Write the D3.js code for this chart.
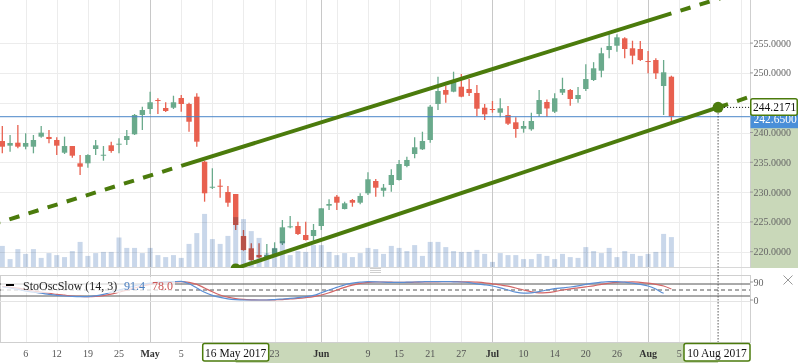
<!DOCTYPE html>
<html>
<head>
<meta charset="utf-8">
<script src="https://d3js.org/d3.v7.min.js"></script>
<style>
  body { margin: 0; background: #fff; }
  text { font-family: "Liberation Serif", "Times New Roman", serif; }
</style>
</head>
<body>
<svg width="798" height="363"></svg>
<script>
// slots on the time axis: trading days, then calendar days after the last bar
var dates = [
  "2017-04-03","2017-04-04","2017-04-05","2017-04-06","2017-04-07","2017-04-10","2017-04-11","2017-04-12","2017-04-13",
  "2017-04-17","2017-04-18","2017-04-19","2017-04-20","2017-04-21","2017-04-24","2017-04-25","2017-04-26","2017-04-27","2017-04-28",
  "2017-05-01","2017-05-02","2017-05-03","2017-05-04","2017-05-05","2017-05-08","2017-05-09","2017-05-10","2017-05-11","2017-05-12",
  "2017-05-15","2017-05-16","2017-05-17","2017-05-18","2017-05-19","2017-05-22","2017-05-23","2017-05-24","2017-05-25","2017-05-26",
  "2017-05-30","2017-05-31",
  "2017-06-01","2017-06-02","2017-06-05","2017-06-06","2017-06-07","2017-06-08","2017-06-09","2017-06-12","2017-06-13","2017-06-14",
  "2017-06-15","2017-06-16","2017-06-19","2017-06-20","2017-06-21","2017-06-22","2017-06-23","2017-06-26","2017-06-27","2017-06-28",
  "2017-06-29","2017-06-30",
  "2017-07-03","2017-07-05","2017-07-06","2017-07-07","2017-07-10","2017-07-11","2017-07-12","2017-07-13","2017-07-14","2017-07-17",
  "2017-07-18","2017-07-19","2017-07-20","2017-07-21","2017-07-24","2017-07-25","2017-07-26","2017-07-27","2017-07-28","2017-07-31",
  "2017-08-01","2017-08-02","2017-08-03","2017-08-04",
  "2017-08-05","2017-08-06","2017-08-07","2017-08-08","2017-08-09","2017-08-10","2017-08-11","2017-08-12","2017-08-13","2017-08-14"
];

var open = [238.57,237.79,238.29,237.62,237.62,239.30,239.25,238.74,236.61,237.73,234.83,234.83,237.23,236.17,237.85,238.02,238.74,239.70,242.94,
  243.94,245.45,244.11,244.16,245.79,244.78,246.01,235.10,230.74,231.07,230.02,229.68,222.63,220.57,219.45,219.11,219.62,221.41,224.09,224.31,
  222.80,222.63,224.31,227.72,229.23,227.16,228.67,228.22,229.80,231.86,230.23,231.19,232.03,234.38,236.39,237.18,238.74,244.78,247.13,246.85,
  247.68,247.30,246.63,244.16,243.94,243.32,242.94,241.71,240.64,240.54,243.10,245.12,243.49,246.68,247.13,245.62,247.30,248.81,250.37,253.84,
  254.56,255.80,254.13,254.01,251.99,252.16,247.80,249.36];
var high = [241.09,239.58,241.26,239.87,239.58,241.09,240.42,239.19,239.30,237.73,236.22,236.34,238.74,237.73,238.46,239.02,240.42,243.10,244.33,
  246.85,245.74,245.07,246.17,246.29,245.00,246.58,235.22,234.00,232.14,231.02,229.68,223.64,221.41,221.41,221.29,221.58,225.32,225.99,225.03,
  225.03,224.65,227.28,228.79,229.51,228.39,228.84,229.80,233.32,232.20,231.36,233.82,235.39,235.94,239.19,240.13,244.61,249.36,247.85,250.20,
  249.82,248.97,247.97,244.78,245.29,245.74,244.45,242.55,241.93,243.32,247.13,245.54,246.58,249.19,247.30,247.63,251.44,251.80,254.23,256.48,
  256.48,255.97,255.40,255.35,253.67,252.45,252.16,249.53];
var low = [236.51,236.78,237.35,237.18,236.51,239.13,238.19,236.22,236.39,235.77,232.87,234.09,236.22,235.27,236.61,236.51,237.90,239.58,240.42,
  243.10,243.10,243.44,243.94,243.49,240.13,237.62,228.39,230.52,229.06,227.55,223.64,220.17,218.49,218.89,218.89,219.29,221.12,223.93,222.80,
  221.90,221.85,223.64,227.00,227.00,227.10,227.55,227.95,229.51,229.23,229.23,230.07,231.95,234.16,235.67,237.06,238.29,243.78,245.00,246.75,
  245.91,246.12,242.77,242.10,243.32,242.55,241.26,239.13,239.97,240.30,242.65,242.65,243.27,246.29,244.50,245.00,246.96,248.64,249.26,252.45,
  253.56,252.45,251.44,252.00,249.93,248.97,242.94,241.81];
var close = [237.62,238.24,237.62,238.24,238.74,239.97,238.91,237.79,237.73,236.11,234.26,236.22,237.85,236.27,236.90,238.12,239.41,242.94,243.77,
  245.07,245.29,243.61,245.07,244.78,241.81,238.46,229.80,230.90,230.90,228.22,224.48,220.28,218.61,219.06,219.45,220.57,224.09,224.26,222.97,
  221.96,223.64,227.28,228.00,228.22,228.12,228.22,229.35,232.15,230.74,230.74,232.87,234.71,235.39,237.52,238.57,244.33,246.96,246.34,248.52,
  246.01,246.63,243.99,243.05,243.82,244.06,241.48,240.59,241.09,241.93,245.45,244.03,245.74,247.30,245.62,246.29,248.97,250.77,253.29,254.51,
  255.97,254.01,252.89,252.17,251.83,249.93,250.10,242.65];

// volume, millions
var volume = [54,21,46,34,46,24,36,31,26,41,64,29,36,39,39,75,49,49,36,
  49,31,26,31,24,59,86,134,71,59,79,126,121,91,74,36,49,66,31,41,
  39,56,56,39,31,36,26,36,49,46,34,54,49,41,56,29,64,64,51,41,
  39,39,44,34,14,36,31,31,21,21,34,29,21,34,26,24,51,41,36,49,
  26,41,34,29,34,39,84,76];

// slow stochastic (14, 3)
var stochK = [65,60,53,44,39,34,28,23,20,18,17,17,21,28,39,50,60,71,78,
  84,89,91,92,93,81,60,39,23,13,6,2,0,0,0,0,2,5,8,12,
  17,23,36,50,63,76,84,89,92,91,89,88,88,89,90,91,92,92,92,91,
  90,87,81,76,70,61,50,39,34,36,42,50,57,61,65,71,78,84,89,92,
  92,89,84,78,70,55,34];
var stochD = [68,63,59,52,45,39,34,28,24,20,18,17,18,22,29,39,49,60,70,
  78,84,88,90,92,88,78,60,41,25,14,7,3,1,0,0,1,2,5,8,
  12,17,25,36,50,63,74,83,88,90,90,89,88,88,89,90,91,91,92,92,
  91,91,89,86,81,76,69,60,50,41,36,37,42,50,56,61,66,71,78,84,
  88,90,91,88,84,78,70,55];

var tickDates = ["2017-04-06","2017-04-12","2017-04-19","2017-04-25","2017-05-01","2017-05-05","2017-05-11","2017-05-17",
  "2017-05-23","2017-05-30","2017-06-01","2017-06-05","2017-06-09","2017-06-15","2017-06-21","2017-06-27","2017-07-03",
  "2017-07-10","2017-07-14","2017-07-20","2017-07-26","2017-08-01","2017-08-05","2017-08-09","2017-08-13"];
// labels that are crowded out or sit under the date boxes
var hiddenTickLabels = ["2017-05-11", "2017-05-17", "2017-05-30", "2017-06-05", "2017-08-09", "2017-08-13"];
var monthNames = ["Jan","Feb","Mar","Apr","May","Jun","Jul","Aug","Sep","Oct","Nov","Dec"];
var priceTicks = [220, 225, 230, 235, 240, 245, 250, 255];
var stochLevels = [80, 50, 20];
var stochTicks = [90, 0];

// drawings
var upperLine = [["2017-05-05", 234.40], ["2017-08-04", 259.98]];
var lowerLine = [["2017-05-16", 217.2], ["2017-08-10", 244.2171]];
var lastPrice = 242.65;

var svg = d3.select("svg");
var W = 750, mainBot = 268, stTop = 275, stBot = 342;
var green = "#4b7b0c", band = "#c9d8b9";

var x = d3.scalePoint().domain(dates).range([2.3, 749.2]);
var y = d3.scaleLinear().domain([220, 255]).range([251.7, 43.1]);
var yv = d3.scaleLinear().domain([0, 200]).range([267.5, 187.5]);
var ys = d3.scaleLinear().domain([0, 100]).range([300, 280]);

var defs = svg.append("defs");
defs.append("clipPath").attr("id", "cmain").append("rect").attr("width", W).attr("height", mainBot);
defs.append("clipPath").attr("id", "cst").append("rect").attr("y", stTop).attr("width", W).attr("height", stBot - stTop);

// axis highlight bands
svg.append("rect").attr("x", W + 0.5).attr("y", y(lowerLine[1][1])).attr("width", 48).attr("height", mainBot - y(lowerLine[1][1])).attr("fill", band);
svg.append("rect").attr("x", x(lowerLine[0][0])).attr("y", stBot).attr("width", x(lowerLine[1][0]) - x(lowerLine[0][0])).attr("height", 363 - stBot).attr("fill", band);

// grid
var isMonthStart = function (d) {
  var i = dates.indexOf(d);
  return i > 0 && dates[i - 1].slice(5, 7) !== d.slice(5, 7);
};
svg.append("g").selectAll("line").data(priceTicks).enter().append("line")
  .attr("x1", 0).attr("x2", W).attr("y1", function (d) { return Math.round(y(d)) + 0.5; }).attr("y2", function (d) { return Math.round(y(d)) + 0.5; })
  .attr("stroke", "#ececec");
svg.append("g").selectAll("line").data(tickDates).enter().append("line")
  .attr("x1", function (d) { return Math.round(x(d)) + 0.5; }).attr("x2", function (d) { return Math.round(x(d)) + 0.5; })
  .attr("y1", 0).attr("y2", stBot)
  .attr("stroke", function (d) { return isMonthStart(d) ? "#c8c8c8" : "#ececec"; });

// candles
var bars = d3.range(close.length);
var gc = svg.append("g").attr("clip-path", "url(#cmain)");
gc.selectAll("line").data(bars).enter().append("line")
  .attr("x1", function (i) { return x(dates[i]); }).attr("x2", function (i) { return x(dates[i]); })
  .attr("y1", function (i) { return y(high[i]); }).attr("y2", function (i) { return y(low[i]); })
  .attr("stroke", function (i) { return close[i] >= open[i] ? "#6aaa8c" : "#e8604f"; }).attr("stroke-width", 1.3);
gc.selectAll("rect").data(bars).enter().append("rect")
  .attr("x", function (i) { return x(dates[i]) - 2.7; }).attr("width", 5.4)
  .attr("y", function (i) { return y(Math.max(open[i], close[i])); })
  .attr("height", function (i) { return Math.max(1, Math.abs(y(open[i]) - y(close[i]))); })
  .attr("fill", function (i) { return close[i] >= open[i] ? "#6aaa8c" : "#e8604f"; });

// volume
svg.append("g").style("mix-blend-mode", "multiply").selectAll("rect").data(bars).enter().append("rect")
  .attr("x", function (i) { return x(dates[i]) - 2.5; }).attr("width", 5)
  .attr("y", function (i) { return yv(volume[i]); })
  .attr("height", function (i) { return yv(0) - yv(volume[i]); })
  .attr("fill", "#c9d7ea");

// pane borders
svg.append("line").attr("x1", 0).attr("x2", W).attr("y1", mainBot - 0.5).attr("y2", mainBot - 0.5).attr("stroke", "#d8d8d8");
svg.append("line").attr("x1", W + 0.5).attr("x2", W + 0.5).attr("y1", 0).attr("y2", mainBot).attr("stroke", "#cfcfcf");
svg.append("rect").attr("x", 0.5).attr("y", stTop + 0.5).attr("width", W).attr("height", stBot - stTop).attr("fill", "none").attr("stroke", "#cfcfcf");
[268.5, 270.5, 272.5].forEach(function (yy) {
  svg.append("line").attr("x1", 370).attr("x2", 381).attr("y1", yy).attr("y2", yy).attr("stroke", "#cfcfcf");
});

// last price line
svg.append("line").attr("x1", 0).attr("x2", W).attr("y1", y(lastPrice)).attr("y2", y(lastPrice)).attr("stroke", "#4a86c8");

// trend lines
var gt = svg.append("g").attr("clip-path", "url(#cmain)");
function px(p) { return [x(p[0]), y(p[1])]; }
function extend(p, q, xe) { return [xe, p[1] + (q[1] - p[1]) / (q[0] - p[0]) * (xe - p[0])]; }
function seg(a, b, dashed, offset) {
  var l = gt.append("line").attr("x1", a[0]).attr("y1", a[1]).attr("x2", b[0]).attr("y2", b[1])
    .attr("stroke", green).attr("stroke-width", 4);
  if (dashed) l.attr("stroke-dasharray", "10.5,9.5").attr("stroke-dashoffset", offset);
}
var uA = px(upperLine[0]), uB = px(upperLine[1]);
seg(uA, uB, false);
seg(uA, extend(uA, uB, 0), true, 10.5);
seg(uB, extend(uA, uB, 800), true, 10.5);
var lA = px(lowerLine[0]), lB = px(lowerLine[1]);
seg(lA, lB, false);
seg(lB, extend(lA, lB, W), true, 0);
gt.append("circle").attr("cx", lA[0]).attr("cy", lA[1]).attr("r", 5).attr("fill", green);

// guides from the end point
svg.append("line").attr("x1", lB[0]).attr("x2", lB[0]).attr("y1", lB[1]).attr("y2", stBot)
  .attr("stroke", "#000").attr("stroke-dasharray", "1,2");
svg.append("line").attr("x1", lB[0]).attr("x2", W).attr("y1", lB[1]).attr("y2", lB[1])
  .attr("stroke", "#000").attr("stroke-dasharray", "1,2");
svg.append("circle").attr("cx", lB[0]).attr("cy", lB[1]).attr("r", 5.5).attr("fill", green);

// price axis
var ga = svg.append("g");
ga.selectAll("line").data(priceTicks).enter().append("line")
  .attr("x1", W).attr("x2", W + 3).attr("y1", function (d) { return y(d); }).attr("y2", function (d) { return y(d); }).attr("stroke", "#999");
ga.selectAll("text").data(priceTicks.filter(function (d) { return Math.abs(y(d) - y(lowerLine[1][1])) > 12 && Math.abs(y(d) - y(lastPrice)) > 12; })).enter().append("text")
  .attr("x", W + 3.5).attr("y", function (d) { return y(d) + 3.5; })
  .attr("font-size", 10).attr("fill", "#666").text(function (d) { return d.toFixed(4); });

svg.append("rect").attr("x", W + 0.5).attr("y", y(lastPrice) - 5.5).attr("width", 48).attr("height", 17).attr("fill", "#4a8fd8");
svg.append("text").attr("x", W + 3.5).attr("y", y(lastPrice) + 6.5).attr("font-size", 11.5).attr("fill", "#fff").text(lastPrice.toFixed(4));
svg.append("rect").attr("x", W + 0.75).attr("y", lB[1] - 8.5).attr("width", 46.5).attr("height", 16.5).attr("rx", 2)
  .attr("fill", "#fff").attr("stroke", green).attr("stroke-width", 1.5);
svg.append("text").attr("x", W + 3).attr("y", lB[1] + 4).attr("font-size", 11.5).attr("fill", "#111").text(lowerLine[1][1].toFixed(4));

// stochastic pane
svg.append("line").attr("x1", 0).attr("x2", W).attr("y1", ys(0) + 1.5).attr("y2", ys(0) + 1.5).attr("stroke", "#e4e4e4");
svg.append("g").selectAll("line").data(stochLevels).enter().append("line")
  .attr("x1", 0).attr("x2", W).attr("y1", function (d) { return ys(d); }).attr("y2", function (d) { return ys(d); })
  .attr("stroke", "#555").attr("stroke-dasharray", function (d) { return d === 50 ? "4,3" : null; });
var gs = svg.append("g").attr("clip-path", "url(#cst)");
var lineD = d3.line().x(function (i) { return x(dates[i]); }).y(function (i) { return ys(stochD[i]); }).curve(d3.curveMonotoneX);
var lineK = d3.line().x(function (i) { return x(dates[i]); }).y(function (i) { return ys(stochK[i]); }).curve(d3.curveMonotoneX);
gs.append("path").attr("d", lineD(bars)).attr("fill", "none").attr("stroke", "#d36565").attr("stroke-width", 1.2);
gs.append("path").attr("d", lineK(bars)).attr("fill", "none").attr("stroke", "#5b8ed4").attr("stroke-width", 1.2);

svg.append("g").selectAll("text").data(stochTicks).enter().append("text")
  .attr("x", W + 3.5).attr("y", function (d) { return ys(d) + 3.5; })
  .attr("font-size", 10).attr("fill", "#666").text(function (d) { return d; });
svg.append("g").selectAll("line").data(stochTicks).enter().append("line")
  .attr("x1", W).attr("x2", W + 3).attr("y1", function (d) { return ys(d); }).attr("y2", function (d) { return ys(d); }).attr("stroke", "#999");

// legend
svg.append("rect").attr("x", 1).attr("y", 277).attr("width", 174).attr("height", 16).attr("fill", "#fff").attr("opacity", 0.75);
svg.append("line").attr("x1", 6).attr("x2", 14).attr("y1", 285).attr("y2", 285).attr("stroke", "#000").attr("stroke-width", 2);
svg.append("text").attr("x", 23).attr("y", 290).attr("font-size", 12).attr("fill", "#222").text("StoOscSlow (14, 3)");
svg.append("text").attr("x", 124).attr("y", 290).attr("font-size", 12).attr("fill", "#4a7fc0").text("91.4");
svg.append("text").attr("x", 152).attr("y", 290).attr("font-size", 12).attr("fill", "#cc5555").text("78.0");

// close icon
svg.append("path").attr("d", "M783.5,275.5L792.5,284.5M792.5,275.5L783.5,284.5").attr("stroke", "#999").attr("fill", "none");

// time axis labels
svg.append("g").selectAll("text").data(tickDates.filter(function (d) { return hiddenTickLabels.indexOf(d) < 0; })).enter().append("text")
  .attr("x", function (d) { return x(d); }).attr("y", 356.5).attr("text-anchor", "middle")
  .attr("font-size", 10)
  .attr("font-weight", function (d) { return isMonthStart(d) ? "bold" : "normal"; })
  .attr("fill", function (d) { return isMonthStart(d) ? "#333" : "#555"; })
  .text(function (d) { return isMonthStart(d) ? monthNames[+d.slice(5, 7) - 1] : String(+d.slice(8, 10)); });

// date boxes for the drawing end points
lowerLine.forEach(function (p) {
  var cx = x(p[0]), bx = Math.min(cx - 33, W - 66);
  var dt = p[0].split("-");
  svg.append("rect").attr("x", bx).attr("y", 343.5).attr("width", 66).attr("height", 17.5).attr("rx", 2)
    .attr("fill", "#fff").attr("stroke", green).attr("stroke-width", 1.5);
  svg.append("text").attr("x", bx + 33).attr("y", 357).attr("text-anchor", "middle").attr("font-size", 11.5).attr("fill", "#111")
    .text(+dt[2] + " " + monthNames[+dt[1] - 1] + " " + dt[0]);
});
</script>
</body>
</html>
